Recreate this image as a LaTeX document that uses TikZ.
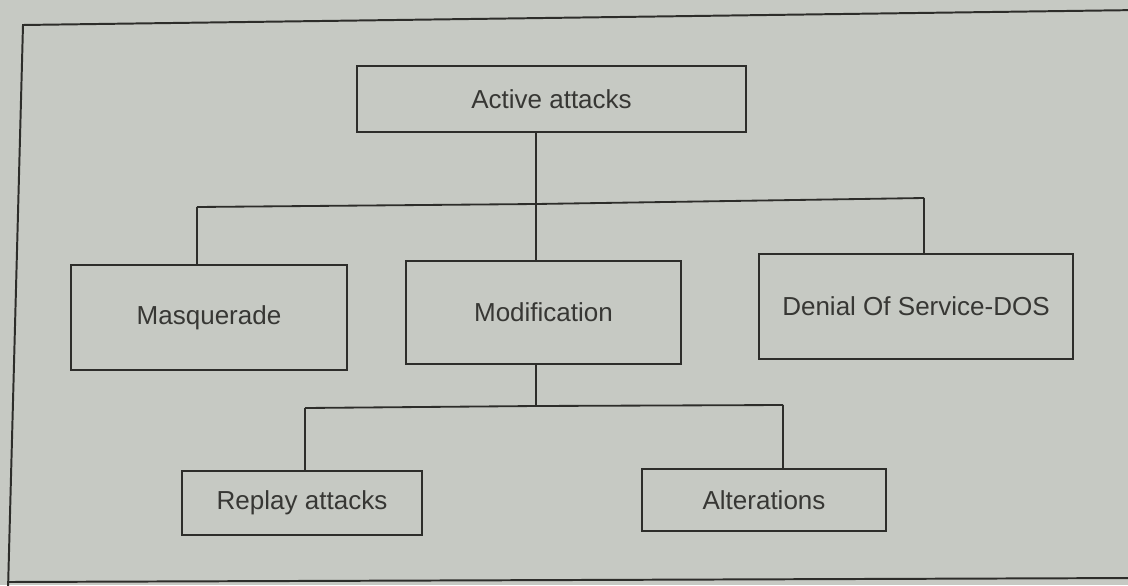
\documentclass[tikz,border=0pt]{standalone}
\usepackage{fontspec}
\setmainfont{Liberation Sans}
\definecolor{paper}{RGB}{198,201,195}
\definecolor{ink}{RGB}{45,45,42}
\definecolor{txt}{RGB}{55,55,52}
\begin{document}
\begin{tikzpicture}[x=0.025cm,y=-0.025cm,
  box/.style={draw=ink,line width=1.3pt,rectangle,inner sep=0pt,text=txt,font=\fontsize{18.5}{22}\selectfont},
  conn/.style={draw=ink,line width=1.3pt}]
\fill[paper] (0,0) rectangle (1128,585);
\useasboundingbox (0,0) rectangle (1128,585);
% outer frame
\draw[ink,line width=1.4pt] (1140,10) -- (23,25) -- (8,590);
\draw[ink,line width=1.4pt] (8,582) -- (1140,578);
% nodes
\node[box,minimum width=389*0.025cm,minimum height=66*0.025cm] (active) at (551.5,99) {Active attacks};
\node[box,minimum width=276*0.025cm,minimum height=105*0.025cm] (masq) at (209,317.5) {Masquerade};
\node[box,minimum width=275*0.025cm,minimum height=103*0.025cm] (modif) at (543.5,312.5) {Modification};
\node[box,minimum width=314*0.025cm,minimum height=105*0.025cm] (dos) at (916,306.5) {Denial Of Service-DOS};
\node[box,minimum width=240*0.025cm,minimum height=64*0.025cm] (replay) at (302,503) {Replay attacks};
\node[box,minimum width=244*0.025cm,minimum height=62*0.025cm] (alter) at (764,500) {Alterations};
% junctions
\coordinate (j1) at (536,204);
\coordinate (b1) at (197,207);
\coordinate (b3) at (924,198);
\coordinate (j2) at (536,406);
\coordinate (c1) at (305,408);
\coordinate (c2) at (783,405);
% connectors
\draw[conn] (active.south -| j1) -- (j1);
\draw[conn] (b1) -- (j1) -- (b3);
\draw[conn] (b1) -- (masq.north -| b1);
\draw[conn] (j1) -- (modif.north -| j1);
\draw[conn] (b3) -- (dos.north -| b3);
\draw[conn] (modif.south -| j2) -- (j2);
\draw[conn] (c1) -- (j2) -- (c2);
\draw[conn] (c1) -- (replay.north -| c1);
\draw[conn] (c2) -- (alter.north -| c2);
\end{tikzpicture}
\end{document}
